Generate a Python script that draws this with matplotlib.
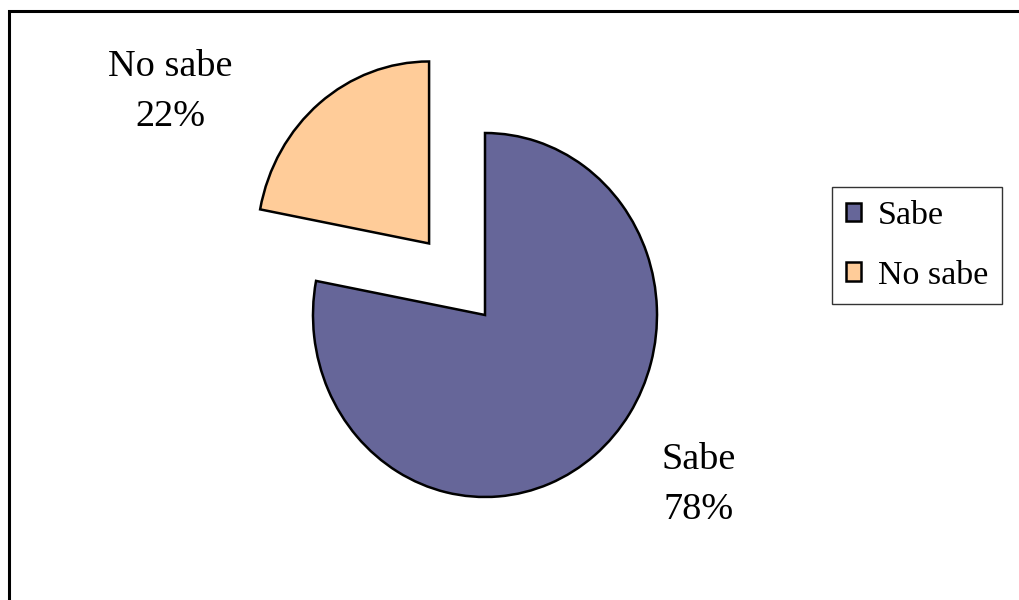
import matplotlib
matplotlib.use("Agg")
import matplotlib.pyplot as plt
from matplotlib.patches import Rectangle

categories = ["Sabe", "No sabe"]
values = [78, 22]
colors = ["#666699", "#FFCC99"]
explode = [0.0, 0.51]

plt.rcParams['font.family'] = ['Liberation Serif', 'DejaVu Serif']

W, H = 1020, 600
fig = plt.figure(figsize=(W/100, H/100), dpi=100)
ax = fig.add_axes([0, 0, 1, 1])

cx, cy, rx, ry = 485, 315, 172, 182
wedges, _ = ax.pie(values, colors=colors, explode=explode, startangle=90,
                   counterclock=False,
                   wedgeprops=dict(edgecolor="black", linewidth=1.8))
ax.set_aspect('auto')
ax.set_xlim(-cx/rx, (W-cx)/rx)
ax.set_ylim(-(H-cy)/ry, cy/ry)
ax.axis('off')

total = sum(values)
pct = [f"{round(v*100/total)}%" for v in values]
label_pos = [((699-cx)/rx, (cy-485)/ry), ((170-cx)/rx, (cy-92)/ry)]
for name, p, (x, y) in zip(categories, pct, label_pos):
    ax.text(x, y, f"{name}\n{p}", ha='center', va='center', fontsize=27.5,
            linespacing=1.6)

leg = fig.legend(wedges, categories, loc='upper left',
                 bbox_to_anchor=(832/W, 1-187/H), fontsize=24.5,
                 frameon=True, fancybox=False, handlelength=0.45,
                 handleheight=0.45, handletextpad=0.5, borderpad=0.4,
                 labelspacing=0.85, borderaxespad=0)
leg.get_frame().set_edgecolor('black')
leg.get_frame().set_linewidth(1.0)
for h in leg.legend_handles:
    h.set_linewidth(1.8)

fig.patches.append(Rectangle((9/W, -0.1), 1.2, 1-11/H+0.1, transform=fig.transFigure,
                             fill=False, edgecolor='black', linewidth=2.2))

fig.savefig("out.png", dpi=100)
